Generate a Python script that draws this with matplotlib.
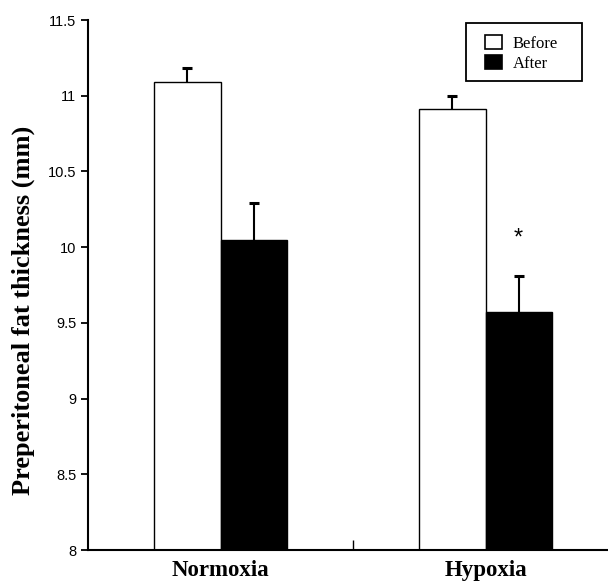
import numpy as np
import matplotlib
matplotlib.use("Agg")
import matplotlib.pyplot as plt
from matplotlib.patches import Rectangle

groups = ["Normoxia", "Hypoxia"]
before = [11.09, 10.91]
before_se = [0.09, 0.09]
after = [10.05, 9.57]
after_se = [0.24, 0.24]
yticks = [8, 8.5, 9, 9.5, 10, 10.5, 11, 11.5]
ytick_labels = ["8", "8.5", "9", "9.5", "10", "10.5", "11", "11.5"]

fig = plt.figure(figsize=(6.08, 5.81), dpi=100)
ax = fig.add_axes([88 / 608, 31 / 581, 530 / 608, 530 / 581])

x = np.array([0.5, 1.5])
w = 0.25
cap = 0.019
ax.bar(x - w / 2, before, w, color="white", edgecolor="black", linewidth=1, label="Before")
ax.bar(x + w / 2, after, w, color="black", edgecolor="black", linewidth=1, label="After")

# upper error bars only
for xs, vals, se in [(x - w / 2, before, before_se), (x + w / 2, after, after_se)]:
    tops = np.array(vals) + np.array(se)
    ax.vlines(xs, vals, tops, color="black", linewidth=1.5)
    ax.hlines(tops, xs - cap, xs + cap, color="black", linewidth=2.2)

# significance mark over hypoxia "after"
ax.text(x[1] + w / 2, 10.06, "*", ha="center", va="center",
        fontsize=17, family="Liberation Sans")

ax.set_xlim(0, 2)
ax.set_ylim(8, 11.5)
ax.set_yticks(yticks)
ax.set_yticklabels(ytick_labels, family="Liberation Sans", fontsize=10.5)
ax.tick_params(axis="y", direction="out", length=5, width=1.3, pad=3.5)
ax.set_xticks([1.0])
ax.set_xticklabels([""])
ax.tick_params(axis="x", direction="in", length=7, width=1)
for gx, g in zip(x, groups):
    ax.annotate(g, xy=(gx, 0), xycoords=("data", "axes fraction"),
                xytext=(0, -7.5), textcoords="offset points",
                ha="center", va="top", fontsize=16.5, fontweight="bold",
                family="Liberation Serif", annotation_clip=False)

ax.spines["top"].set_visible(False)
ax.spines["right"].set_visible(False)
ax.spines["left"].set_linewidth(1.5)
ax.spines["bottom"].set_linewidth(1.5)

ax.set_ylabel("Preperitoneal fat thickness (mm)", fontsize=19, fontweight="bold",
              family="Liberation Serif")
ax.yaxis.set_label_coords(-0.10, 0.453)

leg = ax.legend(loc="upper left", bbox_to_anchor=((475 - 88) / 530, (550 - 25) / 530),
                frameon=False, prop={"family": "Liberation Serif", "size": 12},
                handlelength=1.0, handleheight=0.9, borderpad=0.6, labelspacing=0.2,
                handletextpad=0.65, borderaxespad=0)
for h in leg.legend_handles:
    h.set_linewidth(1.2)
# legend frame, wider than the legend's own padding
fig.add_artist(Rectangle((466 / 608, (581 - 81) / 581), 116 / 608, 58 / 581,
                         transform=fig.transFigure, fill=False, edgecolor="black",
                         linewidth=1.3))

fig.savefig("out.png", dpi=100)
